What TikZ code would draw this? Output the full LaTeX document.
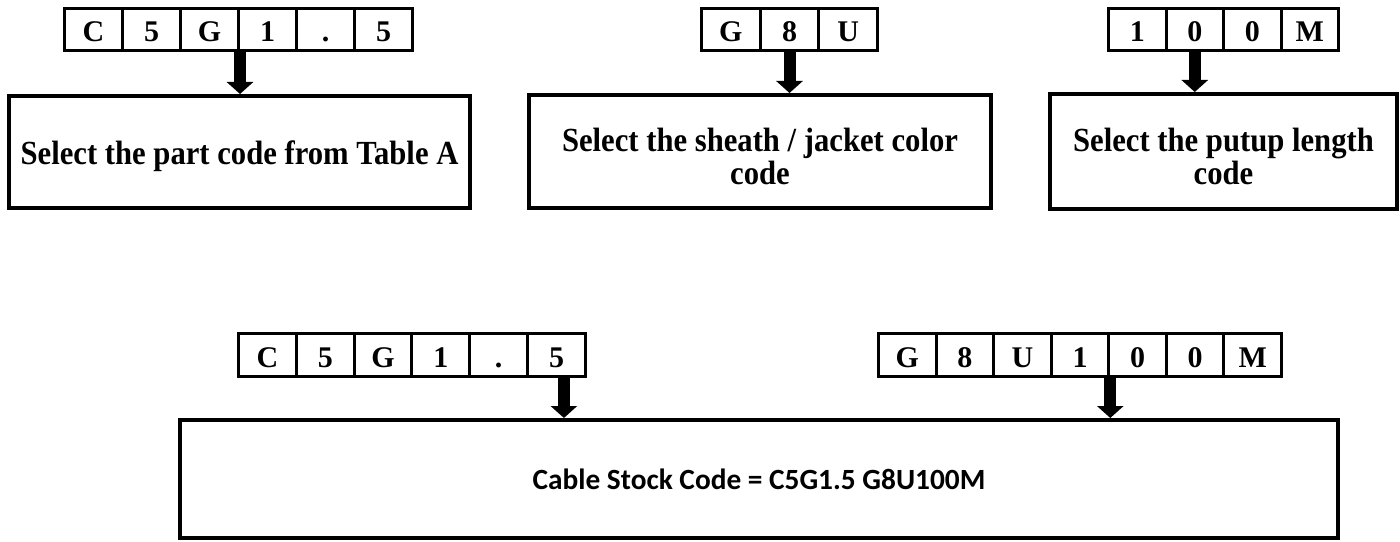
\documentclass[tikz,border=0pt]{standalone}
\usepackage{fontspec}
\usepackage{graphicx}
\setmainfont{Liberation Serif}
\newfontfamily\calfont{Carlito}
\usetikzlibrary{arrows.meta}
\newcommand{\tallbox}[1]{\scalebox{1}[1.1]{\begin{tabular}{@{}c@{}}#1\end{tabular}}}
\begin{document}
\begin{tikzpicture}[x=0.75pt,y=-0.75pt,
  cell/.style={draw, line width=2.25pt, inner sep=0pt, text height=18pt, text depth=0pt,
    font=\fontsize{22.5}{24}\selectfont\bfseries},
  box/.style={draw, line width=3pt, inner sep=0pt},
  boxtext/.style={inner sep=0pt,
    font=\fontsize{23}{20.5}\selectfont\bfseries},
  finaltext/.style={inner sep=0pt, font=\fontsize{22}{26}\selectfont\calfont\bfseries},
  blockarrow/.style={line width=9pt, -{Triangle[length=9pt,width=19.5pt]}},
]
\useasboundingbox (0,0) rectangle (1400,542);

% ---- top code rows ----
\foreach \ch [count=\i] in {C,5,G,1,.,5}
  \node[cell, minimum width=0.75pt*58, minimum height=0.75pt*42] (p\i) at ({64.5+29+58*(\i-1)},29.5) {\ch};
\foreach \ch [count=\i] in {G,8,U}
  \node[cell, minimum width=0.75pt*58.67, minimum height=0.75pt*42] (q\i) at ({701.5+29.33+58.67*(\i-1)},29.5) {\ch};
\foreach \ch [count=\i] in {1,0,0,M}
  \node[cell, minimum width=0.75pt*57.5, minimum height=0.75pt*42] (r\i) at ({1108.5+28.75+57.5*(\i-1)},29.5) {\ch};

% ---- top boxes ----
\node[box, minimum width=0.75pt*461, minimum height=0.75pt*112] (b1) at (239.5,152) {};
\node[box, minimum width=0.75pt*462, minimum height=0.75pt*113] (b2) at (760,151.5) {};
\node[box, minimum width=0.75pt*347, minimum height=0.75pt*115] (b3) at (1223.5,151.5) {};
\node[boxtext] (l1) at ([yshift=-3.5pt]b1.center) {\tallbox{Select the part code from Table A}};
\node[boxtext] (l2) at ([yshift=-7pt]b2.center) {\tallbox{Select the sheath / jacket color\\code}};
\node[boxtext] (l3) at ([yshift=-7pt]b3.center) {\tallbox{Select the putup length\\code}};

% ---- bottom code rows ----
\foreach \ch [count=\i] in {C,5,G,1,.,5}
  \node[cell, minimum width=0.75pt*57.83, minimum height=0.75pt*43] (s\i) at ({238.5+28.92+57.83*(\i-1)},355) {\ch};
\foreach \ch [count=\i] in {G,8,U,1,0,0,M}
  \node[cell, minimum width=0.75pt*57.57, minimum height=0.75pt*43] (u\i) at ({878.5+28.79+57.57*(\i-1)},355) {\ch};

% ---- bottom box ----
\node[box, minimum width=0.75pt*1158, minimum height=0.75pt*118] (b4) at (759,479) {};
\node[finaltext] (l4) at (b4.center) {Cable Stock Code = C5G1.5 G8U100M};

% ---- arrows ----
\draw[blockarrow] (p3.south east) -- (p3.south east |- b1.north);
\draw[blockarrow] (q2.south) -- (q2.south |- b2.north);
\draw[blockarrow] (r2.south) -- (r2.south |- b3.north);
\draw[blockarrow] ([xshift=5.5pt]s6.south) -- ([xshift=5.5pt]s6.south |- b4.north);
\draw[blockarrow] (u4.south east) -- (u4.south east |- b4.north);
\end{tikzpicture}
\end{document}
